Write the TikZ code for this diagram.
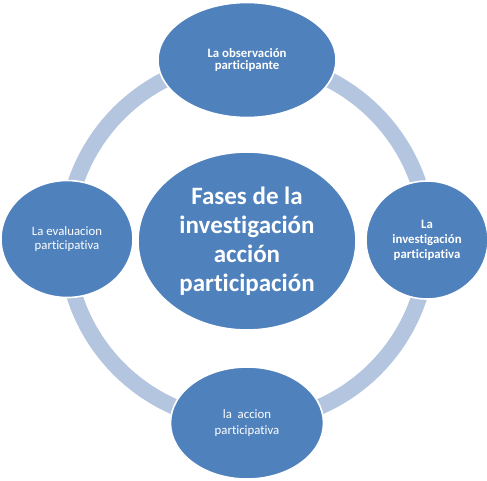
\documentclass[tikz,border=0pt]{standalone}
\usepackage{fontspec}
\setmainfont{Carlito}[Ligatures=NoCommon]
\usetikzlibrary{shapes.geometric}
\definecolor{nodeblue}{RGB}{79,129,189}
\definecolor{ringblue}{RGB}{180,197,224}
\tikzset{
  phase/.style={ellipse, fill=nodeblue, draw=white, line width=1.6pt, text=white, align=center, inner sep=0pt},
}
\begin{document}
\begin{tikzpicture}[x=1pt,y=-1pt]
\useasboundingbox (0,0) rectangle (487,480);
\coordinate (c) at (247,241);
\draw[ringblue, line width=16pt] (c) circle[radius=181];
\node[phase, minimum width=178, minimum height=115, font=\fontsize{12.8}{12}\selectfont\bfseries] (top) at (247,60) {La observación\\participante};
\node[phase, minimum width=122, minimum height=118, font=\fontsize{12.8}{15}\selectfont\bfseries] (right) at (427,240) {La\\investigación\\participativa};
\node[phase, minimum width=153, minimum height=112, font=\fontsize{12.8}{16}\selectfont] (bottom) at (247,423) {la\ \ accion\\participativa};
\node[phase, minimum width=132, minimum height=117, font=\fontsize{12.8}{14}\selectfont] (left) at (67,239) {La evaluacion\\participativa};
\node[phase, minimum width=218, minimum height=178, font=\fontsize{25}{29}\selectfont\bfseries] (center) at (247,241) {Fases de la\\investigación\\acción\\participación};
\end{tikzpicture}
\end{document}
